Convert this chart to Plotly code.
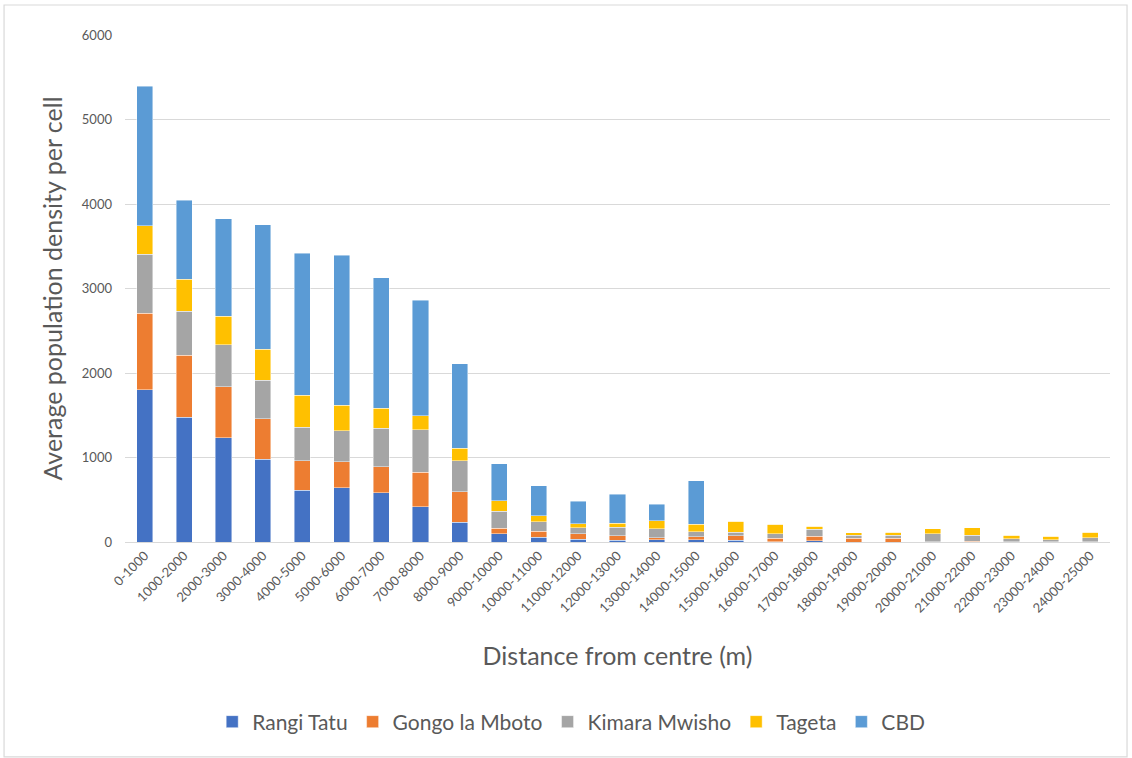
import plotly.graph_objects as go

# Distance bands from the centre (m)
distance_bands = [
    "0-1000", "1000-2000", "2000-3000", "3000-4000", "4000-5000",
    "5000-6000", "6000-7000", "7000-8000", "8000-9000", "9000-10000",
    "10000-11000", "11000-12000", "12000-13000", "13000-14000", "14000-15000",
    "15000-16000", "16000-17000", "17000-18000", "18000-19000", "19000-20000",
    "20000-21000", "21000-22000", "22000-23000", "23000-24000", "24000-25000",
]

# Average population density per cell, by neighbourhood
rangi_tatu = [1800, 1477, 1232, 979, 612, 640, 584, 418, 232, 95, 55, 35, 22, 24, 24,
              20, 3, 16, 0, 0, 0, 0, 0, 0, 0]
gongo_la_mboto = [910, 735, 605, 482, 352, 312, 305, 407, 360, 66, 73, 65, 53, 29, 41,
                  53, 44, 55, 45, 45, 3, 6, 2, 2, 2]
kimara_mwisho = [695, 521, 498, 454, 394, 363, 458, 506, 372, 202, 114, 70, 97, 105, 56,
                 44, 52, 79, 36, 36, 92, 71, 38, 26, 49]
tageta = [340, 375, 339, 368, 376, 301, 237, 166, 145, 126, 68, 47, 51, 91, 90,
          126, 110, 36, 28, 32, 63, 91, 39, 39, 64]
cbd = [1650, 937, 1154, 1474, 1686, 1777, 1545, 1363, 1000, 439, 355, 263, 340, 200, 512,
       0, 0, 0, 0, 0, 0, 0, 0, 0, 0]

y_ticks = [0, 1000, 2000, 3000, 4000, 5000, 6000]

series = [
    ("Rangi Tatu", rangi_tatu, "#4472C4"),
    ("Gongo la Mboto", gongo_la_mboto, "#ED7D31"),
    ("Kimara Mwisho", kimara_mwisho, "#A5A5A5"),
    ("Tageta", tageta, "#FFC000"),
    ("CBD", cbd, "#5B9BD5"),
]

FONT = "Lato, 'Open Sans', sans-serif"
TEXT = "#595959"

fig = go.Figure()
for name, values, color in series:
    fig.add_trace(go.Bar(
        x=distance_bands, y=values, name=name,
        marker=dict(color=color, line=dict(color="rgba(255,255,255,0.55)", width=0.8)),
    ))

fig.update_layout(
    barmode="stack",
    bargap=0.59,
    width=1132, height=758,
    margin=dict(l=125, r=22, t=35, b=216),
    paper_bgcolor="white",
    plot_bgcolor="white",
    font=dict(family=FONT, color=TEXT),
    legend=dict(
        orientation="h", x=0.453, xanchor="center", y=-0.355, yanchor="middle",
        font=dict(size=21, color=TEXT), itemwidth=30, traceorder="normal",
    ),
    xaxis=dict(
        tickangle=-45,
        tickfont=dict(size=13, color=TEXT),
        showgrid=False,
        showline=True, linecolor="#d9d9d9", linewidth=1,
        title=dict(text="Distance from centre (m)", font=dict(size=25, color=TEXT), standoff=32),
    ),
    yaxis=dict(
        range=[0, 6000],
        tickvals=y_ticks,
        tickfont=dict(size=13, color=TEXT),
        gridcolor="#d9d9d9", gridwidth=1,
        zeroline=False,
        ticklabelstandoff=12,
        title=dict(text="Average population density per cell", font=dict(size=25, color=TEXT), standoff=12),
    ),
    shapes=[dict(
        type="rect", xref="paper", yref="paper",
        x0=-0.1228, x1=1.0173, y0=-0.424, y1=1.0592,
        line=dict(color="#d9d9d9", width=1.2), fillcolor="rgba(0,0,0,0)", layer="below",
    )],
)

fig.write_html("out.html")
